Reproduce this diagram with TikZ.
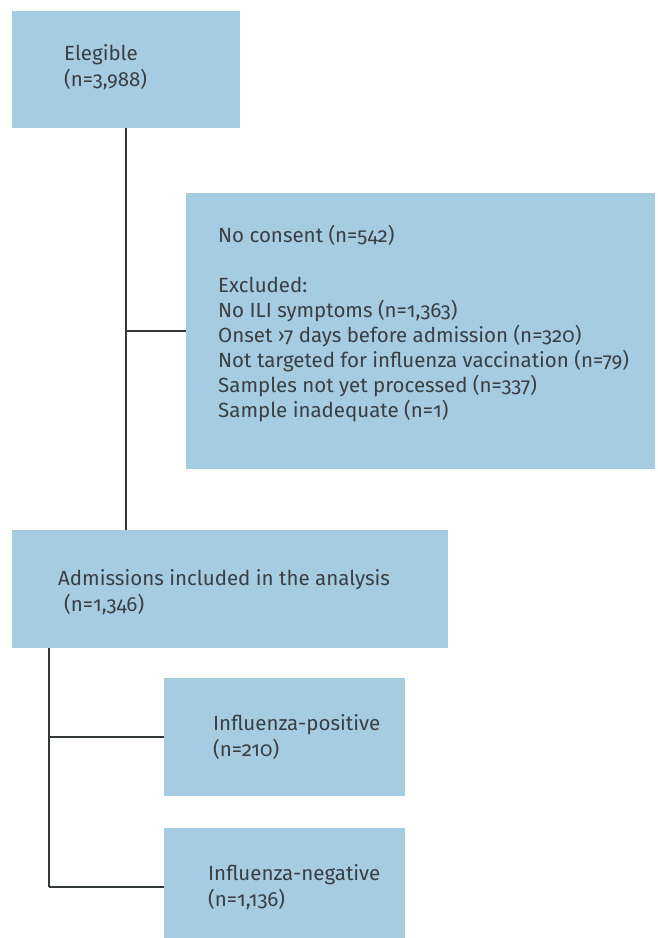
\documentclass[tikz,border=0pt]{standalone}
\usepackage{fontspec}
\setmainfont{Fira Sans}[Numbers=OldStyle]
\definecolor{boxfill}{HTML}{A5CCE0}
\definecolor{txt}{HTML}{3A3F42}
\definecolor{ln}{HTML}{33383A}
\begin{document}
\begin{tikzpicture}[x=1pt,y=-1pt,
  box/.style={draw=none,fill=boxfill,inner sep=0pt,anchor=north west},
  lbl/.style={anchor=base west,inner sep=0pt,text=txt,font=\fontsize{20.5}{25}\selectfont},
  conn/.style={draw=ln,line width=2.3pt}]
\useasboundingbox (0,0) rectangle (657,938);
\fill[white] (0,0) rectangle (657,938);
% boxes
\node[box,minimum width=228pt,minimum height=117pt] (elig) at (12,11) {};
\node[box,minimum width=469pt,minimum height=276pt] (excl) at (186,193) {};
\node[box,minimum width=436pt,minimum height=118pt] (adm) at (12,530) {};
\node[box,minimum width=241pt,minimum height=118pt] (pos) at (164,678) {};
\node[box,minimum width=241pt,minimum height=118pt] (neg) at (164,828) {};
% texts
\node[lbl] (t1) at (64,60) {Elegible};
\node[lbl] (t2) at (64,86) {(n=3,988)};
\node[lbl] (t3) at (218,242) {No consent (n=542)};
\node[lbl] (t4) at (218,292) {Excluded:};
\node[lbl] (t5) at (218,317) {No ILI symptoms (n=1,363)};
\node[lbl] (t6) at (218,342) {Onset ›7 days before admission (n=320)};
\node[lbl] (t7) at (218,367) {Not targeted for influenza vaccination (n=79)};
\node[lbl] (t8) at (218,392) {Samples not yet processed (n=337)};
\node[lbl] (t9) at (218,417) {Sample inadequate (n=1)};
\node[lbl] (t10) at (58,585) {Admissions included in the analysis};
\node[lbl] (t11) at (64,611) {(n=1,346)};
\node[lbl] (t12) at (213,730) {Influenza-positive};
\node[lbl] (t13) at (213,756) {(n=210)};
\node[lbl] (t14) at (208,880) {Influenza-negative};
\node[lbl] (t15) at (208,906) {(n=1,136)};
% connectors
\draw[conn] (elig.south) -- (elig.south |- adm.north);
\draw[conn] (excl.west) -- (excl.west -| elig.south);
\coordinate (br) at ([xshift=37pt]adm.south west);
\coordinate (brend) at (49,887);
\draw[conn] (br) -- (brend);
\draw[conn] (brend |- pos.west) -- (pos.west);
\draw[conn] (brend) -- (brend -| neg.west);
\end{tikzpicture}
\end{document}
